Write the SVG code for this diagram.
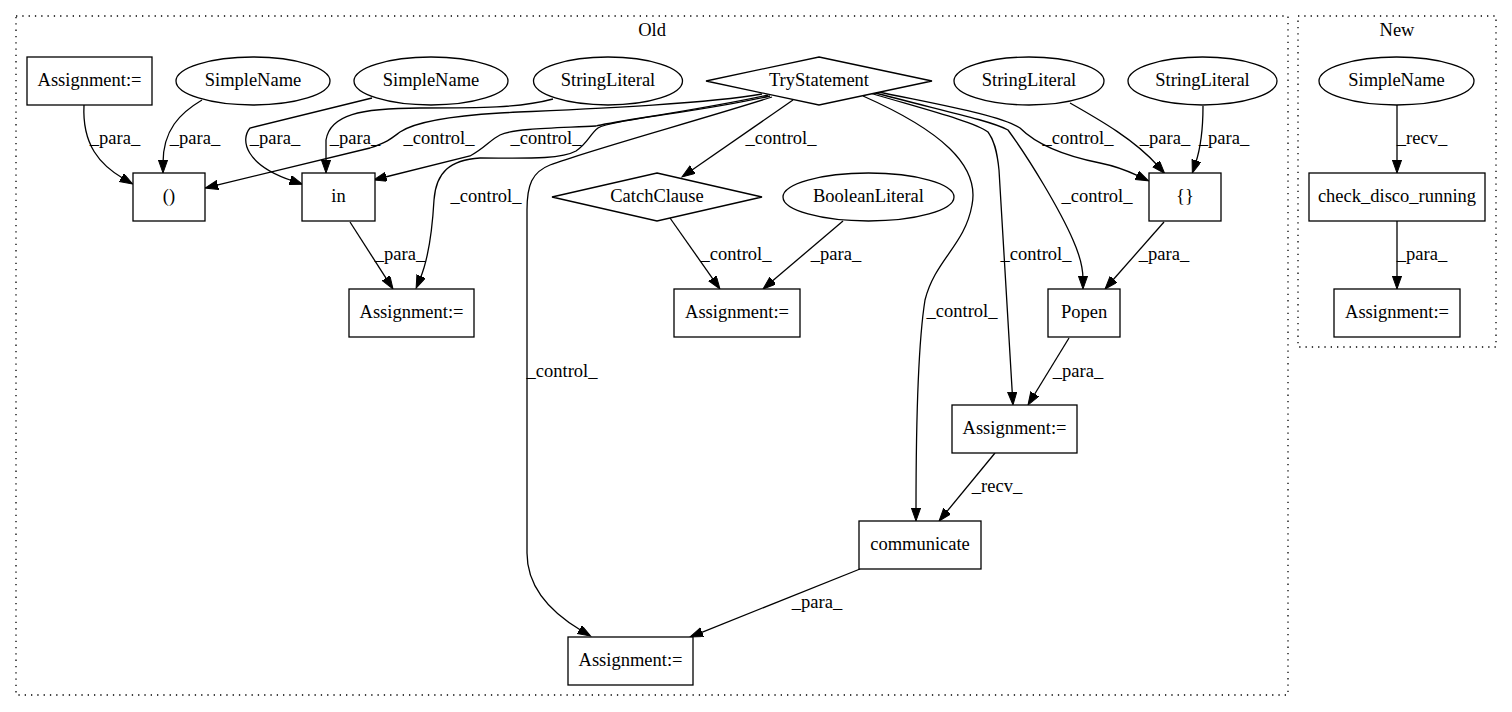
<svg xmlns="http://www.w3.org/2000/svg" width="1512" height="712" viewBox="0 0 1512 712">
<style>
text{font-family:"Liberation Serif","Times New Roman",serif;font-size:18.5px;text-anchor:middle;fill:#000}
.n rect,.n ellipse,.n polygon{fill:#fff;stroke:#000;stroke-width:1.3}
.c{fill:none;stroke:#000;stroke-width:1.3;stroke-dasharray:1.3,5}
#edges path{fill:none;stroke:#000;stroke-width:1.3;marker-end:url(#ah)}
</style>
<defs>
<marker id="ah" markerWidth="14" markerHeight="10" refX="3" refY="4.6" orient="auto" markerUnits="userSpaceOnUse"><path d="M0,0 L13,4.6 L0,9.2 z" fill="#000" stroke="#000" stroke-width="1"/></marker>
</defs>
<rect width="1512" height="712" fill="#fff"/>
<g id="cluster_old"><rect class="c" x="16" y="16" width="1272" height="679"/><text x="652" y="36">Old</text></g>
<g id="cluster_new"><rect class="c" x="1298" y="16" width="198" height="331"/><text x="1397" y="36">New</text></g>

<g id="edges">
<path d="M84,105 C82,145 100,165 124,179"/>
<path d="M202,100 C180,113 163,130 163,163"/>
<path d="M372,98 L250,128 C240,140 245,165 293,181"/>
<path d="M553,99 C520,108 480,108 420,108 C360,108 330,115 326,140 L326,163"/>
<path d="M762,94 C700,105 560,110 500,113 C450,116 415,122 400,132 C392,138 388,142 370,148 L214.8,185.7"/>
<path d="M768,95 C700,110 610,122 596,126 C560,128 515,128 500,135 C490,140 485,148 470,156 L383.4,177.5"/>
<path d="M770,96 C700,112 610,120 598,128 C590,134 588,143 576,151 C560,160 520,158 480,158 C450,160 436,172 434,200 C432,235 428,260 420,279"/>
<path d="M772,97 C700,120 590,150 550,165 C532,172 527,185 527,210 L527,553 C527,590 555,615 582,631"/>
<path d="M793,100 L690.2,171.3"/>
<path d="M670,218 L714.2,280.8"/>
<path d="M843,221 L770.6,282.5"/>
<path d="M863,96 C940,130 980,165 972,205 C965,245 935,260 925,300 C917,350 916,450 916,511"/>
<path d="M870,93 C920,108 975,122 988,132 C994,140 997,150 999,170 L1012.4,395"/>
<path d="M872,92 C930,108 990,120 1008,130 C1030,160 1060,210 1073,240 C1081,258 1083,270 1083,279"/>
<path d="M874,91 C940,105 1000,115 1020,128 C1035,143 1060,155 1100,163 C1120,167 1130,172 1139.5,176.5"/>
<path d="M1070,103 C1100,120 1135,140 1158,166"/>
<path d="M1203,106 C1203,130 1200,150 1195.5,163.5"/>
<path d="M1164,222 L1111.6,281.5"/>
<path d="M1069,338 L1033.2,396.5"/>
<path d="M995,453 L945.4,513.3"/>
<path d="M860,569 L699.3,633.3"/>
<path d="M350,222 L387.6,280.6"/>
<path d="M1397,105 L1397,163"/>
<path d="M1397,221 L1397,279"/>
</g>
<g id="edge_labels">
<text x="115" y="144">_para_</text>
<text x="195" y="144">_para_</text>
<text x="275" y="144">_para_</text>
<text x="355" y="144">_para_</text>
<text x="439" y="144">_control_</text>
<text x="546" y="144">_control_</text>
<text x="486" y="202">_control_</text>
<text x="781" y="144">_control_</text>
<text x="736" y="260">_control_</text>
<text x="836" y="260">_para_</text>
<text x="962" y="317">_control_</text>
<text x="1036" y="260">_control_</text>
<text x="1097" y="202">_control_</text>
<text x="1078" y="144">_control_</text>
<text x="1165" y="144">_para_</text>
<text x="1224" y="144">_para_</text>
<text x="1164" y="260">_para_</text>
<text x="1078" y="377">_para_</text>
<text x="997" y="492">_recv_</text>
<text x="817" y="608">_para_</text>
<text x="562" y="377">_control_</text>
<text x="400" y="260">_para_</text>
<text x="1422" y="144">_recv_</text>
<text x="1422" y="260">_para_</text>
</g>

<g id="n_assign_tl" class="n"><rect x="27" y="57" width="125" height="48"/><text x="89.5" y="86">Assignment:=</text></g>
<g id="n_simplename1" class="n"><ellipse cx="253" cy="81" rx="77" ry="24"/><text x="253" y="86">SimpleName</text></g>
<g id="n_simplename2" class="n"><ellipse cx="431" cy="81" rx="77" ry="24"/><text x="431" y="86">SimpleName</text></g>
<g id="n_stringlit0" class="n"><ellipse cx="608" cy="81" rx="74.5" ry="24"/><text x="608" y="86">StringLiteral</text></g>
<g id="n_try" class="n"><polygon points="819,57 932,81 819,105 706,81"/><text x="819" y="86">TryStatement</text></g>
<g id="n_stringlit1" class="n"><ellipse cx="1029" cy="81" rx="75" ry="24"/><text x="1029" y="86">StringLiteral</text></g>
<g id="n_stringlit2" class="n"><ellipse cx="1202.5" cy="81" rx="74.5" ry="24"/><text x="1202.5" y="86">StringLiteral</text></g>
<g id="n_paren" class="n"><rect x="133" y="173" width="72" height="48"/><text x="169" y="202">()</text></g>
<g id="n_in" class="n"><rect x="302" y="173" width="73" height="48"/><text x="338.5" y="202">in</text></g>
<g id="n_catch" class="n"><polygon points="657,173 762,197 657,221 552,197"/><text x="657" y="202">CatchClause</text></g>
<g id="n_bool" class="n"><ellipse cx="868.5" cy="197" rx="85.5" ry="24"/><text x="868.5" y="202">BooleanLiteral</text></g>
<g id="n_brace" class="n"><rect x="1149" y="173" width="72" height="48"/><text x="1185" y="202">{}</text></g>
<g id="n_assign_l" class="n"><rect x="349" y="289" width="125" height="48"/><text x="411.5" y="318">Assignment:=</text></g>
<g id="n_assign_m" class="n"><rect x="674" y="289" width="126" height="48"/><text x="737" y="318">Assignment:=</text></g>
<g id="n_popen" class="n"><rect x="1048" y="289" width="72" height="48"/><text x="1084" y="318">Popen</text></g>
<g id="n_assign_r" class="n"><rect x="952" y="405" width="125" height="48"/><text x="1014.5" y="434">Assignment:=</text></g>
<g id="n_communicate" class="n"><rect x="859" y="521" width="122" height="48"/><text x="920" y="550">communicate</text></g>
<g id="n_assign_b" class="n"><rect x="568" y="637" width="125" height="48"/><text x="630.5" y="666">Assignment:=</text></g>
<g id="n_new_simplename" class="n"><ellipse cx="1396.5" cy="81" rx="77.5" ry="24"/><text x="1396.5" y="86">SimpleName</text></g>
<g id="n_check" class="n"><rect x="1309" y="173" width="176" height="48"/><text x="1397" y="202">check_disco_running</text></g>
<g id="n_new_assign" class="n"><rect x="1334" y="289" width="126" height="48"/><text x="1397" y="318">Assignment:=</text></g>
</svg>
